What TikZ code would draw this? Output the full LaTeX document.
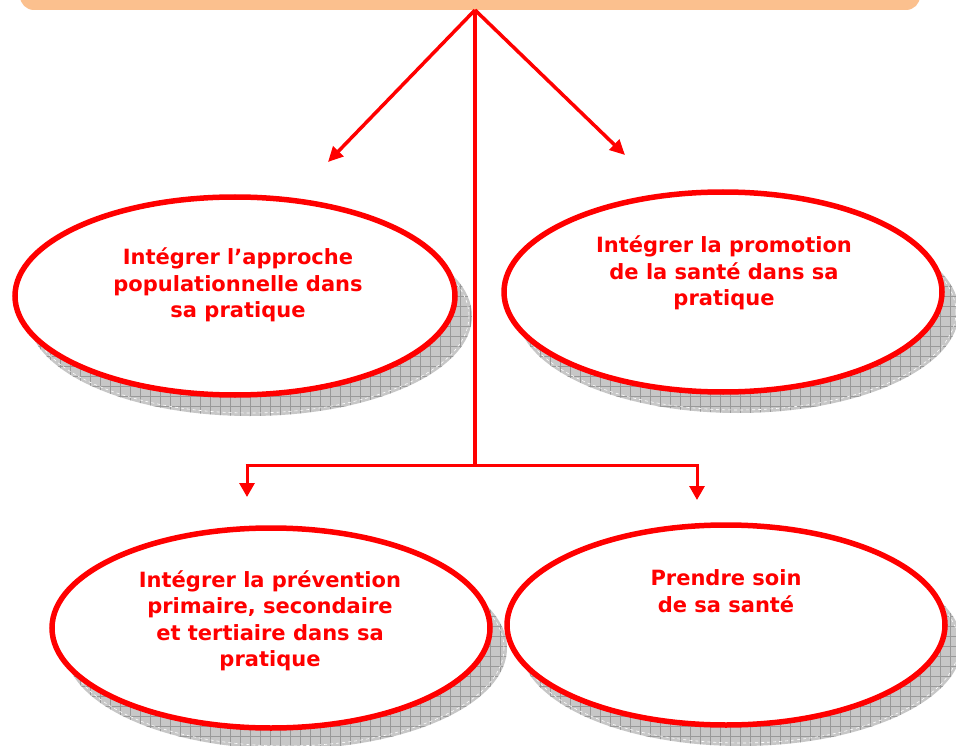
\documentclass[tikz,border=0pt]{standalone}
\usepackage{fontspec}
\setmainfont{DejaVu Sans}
\usetikzlibrary{shapes.geometric,arrows.meta,patterns.meta}
\definecolor{topfill}{HTML}{FBC08E}
\definecolor{redline}{HTML}{FF0000}
\begin{document}
\begin{tikzpicture}[x=1pt,y=-1pt,
  topbox/.style={rectangle,fill=topfill,rounded corners=14pt,minimum width=900pt,minimum height=40pt,inner sep=0pt},
  bubble/.style={ellipse,draw=redline,line width=5.5pt,fill=white,inner sep=0pt},
  bubbletext/.style={text=redline,align=center,font=\bfseries\fontsize{21}{26.5}\selectfont,inner sep=0pt},
  shadowbase/.style={fill=black!22},
  shadowgridh/.style={pattern={Lines[angle=0,distance=10pt,line width=0.5pt]},pattern color=black!40},
  shadowgridv/.style={pattern={Lines[angle=90,distance=10pt,line width=0.5pt]},pattern color=black!40},
  shadowedge/.style={draw=white,dashed,line width=0.6pt},
  link/.style={draw=redline,line width=3.5pt},
  diagarrow/.style={link,-{Triangle[length=15pt,width=14pt]}},
  downarrow/.style={draw=redline,line width=3pt,-{Triangle[length=14pt,width=15pt]}}
]
\useasboundingbox (0,0) rectangle (956,746);
\clip (0,0) rectangle (956,746);
\fill[white] (0,0) rectangle (956,746);

% top box
\node[topbox] (top) at (470,-10) {};

% shadows
\foreach \cx/\cy/\rx/\ry in {235/296/220/99, 723/292/219/100, 271/628/219/100, 726/625/219/100}{
  \path[shadowbase] (\cx+15,\cy+20) ellipse ({\rx+2} and {\ry+1});
  \path[shadowgridh] (\cx+15,\cy+20) ellipse ({\rx+2} and {\ry+1});
  \path[shadowgridv] (\cx+15,\cy+20) ellipse ({\rx+2} and {\ry+1});
  \path[shadowedge] (\cx+15,\cy+20) ellipse ({\rx-1} and {\ry-2});
}

% ellipses
\node[bubble,minimum width=440pt,minimum height=198pt] (e1) at (235,296) {};
\node[bubble,minimum width=438pt,minimum height=200pt] (e2) at (723,292) {};
\node[bubble,minimum width=438pt,minimum height=200pt] (e3) at (271,628) {};
\node[bubble,minimum width=438pt,minimum height=200pt] (e4) at (726,625) {};

% texts
\node[bubbletext] (t1) at (238,285) {Intégrer l’approche\\populationnelle dans\\sa pratique};
\node[bubbletext] (t2) at (724,273) {Intégrer la promotion\\de la santé dans sa\\pratique};
\node[bubbletext] (t3) at (270,621) {Intégrer la prévention\\primaire, secondaire\\et tertiaire dans sa\\pratique};
\node[bubbletext] (t4) at (726,591) {Prendre soin\\de sa santé};

% connectors
\coordinate (hub) at (475,10);
\coordinate (tipL) at (328,162);
\coordinate (tipR) at (625,155);
\coordinate (branch) at (475,465);
\coordinate (bl) at (247,465);
\coordinate (br) at (697,465);
\coordinate (blend) at (247,497);
\coordinate (brend) at (697,500);

\draw[diagarrow] (hub) -- (tipL);
\draw[diagarrow] (hub) -- (tipR);
\draw[link] (hub) -- (branch);
\draw[draw=redline,line width=3pt] ([xshift=-1.5pt]bl) -- ([xshift=1.5pt]br);
\draw[downarrow] ([yshift=-1.5pt]bl) -- (blend);
\draw[downarrow] ([yshift=-1.5pt]br) -- (brend);
\end{tikzpicture}
\end{document}
